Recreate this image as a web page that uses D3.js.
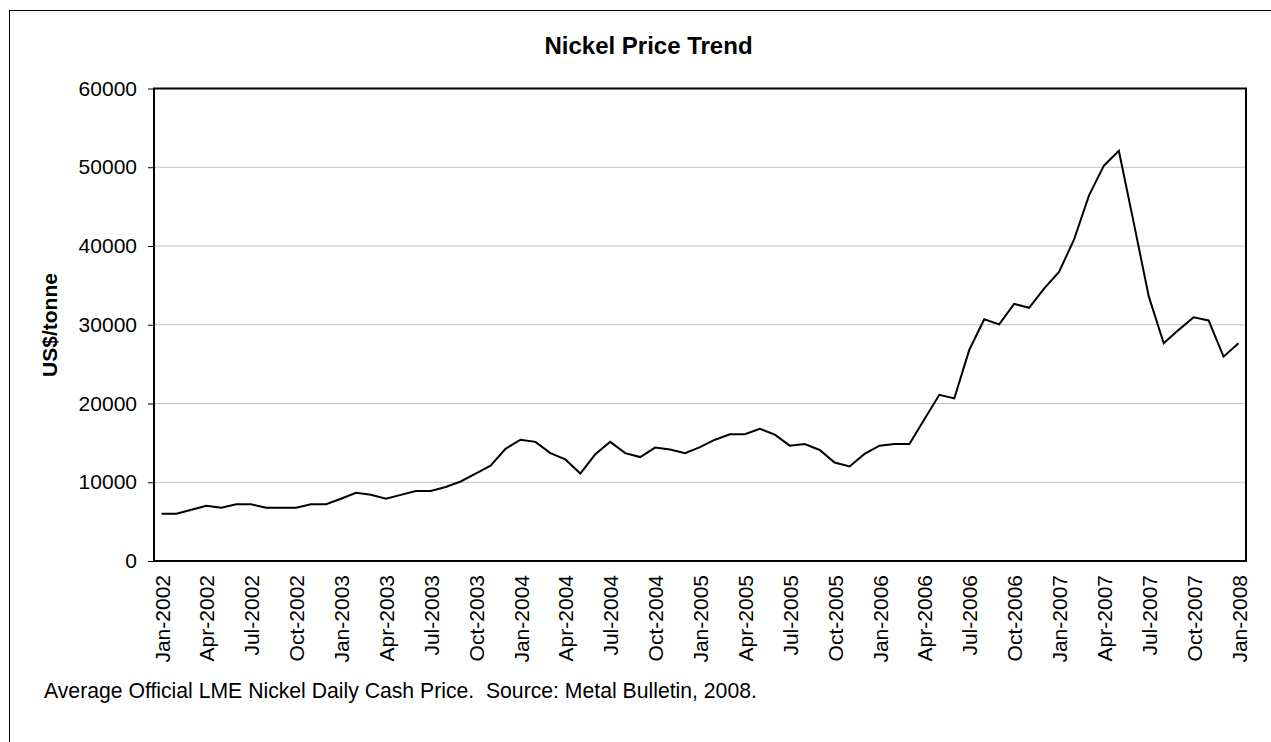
<!DOCTYPE html>
<html>
<head>
<meta charset="utf-8">
<script src="https://cdn.jsdelivr.net/npm/d3@7"></script>
<style>
  html, body { margin: 0; padding: 0; background: #fff; }
  svg { display: block; font-family: "Liberation Sans", Arial, sans-serif; }
</style>
</head>
<body>
<svg id="chart" width="1271" height="742"></svg>
<script>
const months = [
  "Jan-2002","Feb-2002","Mar-2002","Apr-2002","May-2002","Jun-2002","Jul-2002","Aug-2002","Sep-2002","Oct-2002","Nov-2002","Dec-2002",
  "Jan-2003","Feb-2003","Mar-2003","Apr-2003","May-2003","Jun-2003","Jul-2003","Aug-2003","Sep-2003","Oct-2003","Nov-2003","Dec-2003",
  "Jan-2004","Feb-2004","Mar-2004","Apr-2004","May-2004","Jun-2004","Jul-2004","Aug-2004","Sep-2004","Oct-2004","Nov-2004","Dec-2004",
  "Jan-2005","Feb-2005","Mar-2005","Apr-2005","May-2005","Jun-2005","Jul-2005","Aug-2005","Sep-2005","Oct-2005","Nov-2005","Dec-2005",
  "Jan-2006","Feb-2006","Mar-2006","Apr-2006","May-2006","Jun-2006","Jul-2006","Aug-2006","Sep-2006","Oct-2006","Nov-2006","Dec-2006",
  "Jan-2007","Feb-2007","Mar-2007","Apr-2007","May-2007","Jun-2007","Jul-2007","Aug-2007","Sep-2007","Oct-2007","Nov-2007","Dec-2007",
  "Jan-2008"
];
const prices = [
  6000, 6000, 6500, 7000, 6750, 7200, 7200, 6750, 6750, 6750, 7200, 7200,
  7900, 8650, 8400, 7900, 8400, 8900, 8900, 9400, 10100, 11100, 12100, 14250,
  15400, 15130, 13700, 12900, 11100, 13550, 15130, 13700, 13200, 14400, 14150, 13700,
  14450, 15400, 16100, 16100, 16800, 16050, 14650, 14850, 14100, 12500, 12000, 13600,
  14650, 14850, 14850, 18000, 21100, 20650, 26800, 30700, 30050, 32650, 32150, 34600,
  36700, 40800, 46400, 50200, 52100, 42900, 33600, 27650, 29350, 30950, 30550, 25950,
  27650
];
const tickLabels = [
  "Jan-2002","Apr-2002","Jul-2002","Oct-2002","Jan-2003","Apr-2003","Jul-2003","Oct-2003",
  "Jan-2004","Apr-2004","Jul-2004","Oct-2004","Jan-2005","Apr-2005","Jul-2005","Oct-2005",
  "Jan-2006","Apr-2006","Jul-2006","Oct-2006","Jan-2007","Apr-2007","Jul-2007","Oct-2007","Jan-2008"
];
const yTicks = [0, 10000, 20000, 30000, 40000, 50000, 60000];
const titleText = "Nickel Price Trend";
const yTitle = "US$/tonne";
const footerText = "Average Official LME Nickel Daily Cash Price.  Source: Metal Bulletin, 2008.";

const svg = d3.select("#chart");
const L = 154, R = 1246, T = 88.5, B = 561;

// outer frame
svg.append("rect").attr("x", 9.5).attr("y", 10.5).attr("width", 1300).attr("height", 800)
  .attr("fill", "#fff").attr("stroke", "#000").attr("stroke-width", 1);

const x = d3.scalePoint().domain(months).range([L, R]).padding(0.5);
const y = d3.scaleLinear().domain([0, 60000]).range([B, T]);

// gridlines
svg.append("g").selectAll("line").data(yTicks.filter(d => d > 0 && d < 60000)).join("line")
  .attr("x1", L).attr("x2", R).attr("y1", d => y(d)).attr("y2", d => y(d))
  .attr("stroke", "#c0c0c0").attr("stroke-width", 1);

// y axis
const yAxis = d3.axisLeft(y).tickValues(yTicks).tickFormat(d3.format("d")).tickSize(6).tickPadding(11);
const gy = svg.append("g").attr("transform", `translate(${L},0)`).call(yAxis);
gy.select(".domain").remove();
gy.selectAll("line").attr("stroke", "#000").attr("stroke-width", 1);
gy.selectAll("text").attr("font-size", 21).attr("fill", "#000")
  .attr("font-family", "'Liberation Sans', Arial, sans-serif");

// x axis labels
const xAxis = d3.axisBottom(x).tickValues(tickLabels).tickSize(0);
const gx = svg.append("g").attr("transform", `translate(0,${B})`).call(xAxis);
gx.select(".domain").remove();
gx.selectAll("text")
  .attr("font-size", 21).attr("fill", "#000")
  .attr("font-family", "'Liberation Sans', Arial, sans-serif")
  .attr("text-anchor", "end")
  .attr("transform", "translate(0,14) rotate(-90)")
  .attr("x", 0).attr("y", 0).attr("dy", "0.36em");

// plot border
svg.append("rect").attr("x", L).attr("y", T).attr("width", R - L).attr("height", B - T)
  .attr("fill", "none").attr("stroke", "#000").attr("stroke-width", 2);

// line
const line = d3.line().x((d, i) => x(months[i])).y(d => y(d));
svg.append("path").datum(prices).attr("d", line)
  .attr("fill", "none").attr("stroke", "#000").attr("stroke-width", 2)
  .attr("stroke-linejoin", "miter");

// title
svg.append("text").attr("x", 648.5).attr("y", 54).attr("text-anchor", "middle")
  .attr("font-size", 24).attr("font-weight", "bold").text(titleText);

// y title
svg.append("text").attr("transform", "translate(57,325) rotate(-90)").attr("text-anchor", "middle")
  .attr("font-size", 21).attr("font-weight", "bold").text(yTitle);

// footer
svg.append("text").attr("x", 44).attr("y", 698).attr("font-size", 21.2)
  .style("white-space", "pre").attr("xml:space", "preserve").text(footerText);
</script>
</body>
</html>
